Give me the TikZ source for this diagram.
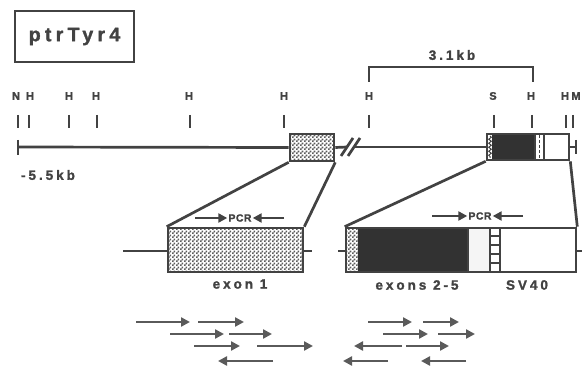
\documentclass[tikz,border=0pt]{standalone}
\usepackage{fontspec}
\setmainfont{Liberation Sans}
\newfontfamily\lbl[LetterSpace=22, FakeBold=1.6]{Liberation Sans Bold}
\newfontfamily\pcrfont[LetterSpace=4, FakeBold=1.2]{Liberation Sans Bold}
\usetikzlibrary{patterns,arrows.meta,decorations.pathmorphing}
\pgfdeclarepatternformonly{finechk}{\pgfqpoint{0pt}{0pt}}{\pgfqpoint{4pt}{4pt}}{\pgfqpoint{4pt}{4pt}}{%
  \pgfpathrectangle{\pgfqpoint{0pt}{0pt}}{\pgfqpoint{2pt}{2pt}}%
  \pgfpathrectangle{\pgfqpoint{2pt}{2pt}}{\pgfqpoint{2pt}{2pt}}%
  \pgfusepath{fill}}
\definecolor{ink}{HTML}{424242}
\definecolor{darkfill}{HTML}{323232}
\definecolor{arr}{HTML}{5A5A5A}
\definecolor{chkc}{HTML}{5C5C5C}
\tikzset{
  tl/.style={font=\lbl\fontsize{11}{11}\selectfont, text=ink, inner sep=0},
  bl/.style={font=\lbl\fontsize{13.5}{13.5}\selectfont, text=ink, inner sep=0},
  pcrlbl/.style={font=\pcrfont\fontsize{10.5}{10.5}\selectfont, text=ink, inner sep=0},
  genebox/.style={draw=ink, line width=2.6pt, inner sep=0, rectangle},
  chk/.style={pattern=finechk, pattern color=chkc},
  rtick/.style={draw=ink, line width=2.7pt},
  pcrarrow/.style={draw=ink, line width=2.8pt, -{Triangle[length=9pt,width=9pt]}},
  readarrow/.style={draw=arr, line width=2.8pt, -{Triangle[length=9pt,width=9pt]}},
}
\begin{document}
\begin{tikzpicture}[x=1pt,y=-1pt]
\useasboundingbox (0,0) rectangle (582,366);

% title
\node[draw=ink, line width=2.2pt, minimum width=119pt, minimum height=51pt, inner sep=0,
      font=\lbl\fontsize{19.5}{19.5}\selectfont, text=ink] (title) at (74.5,36.5) {ptrTyr4};

% restriction site labels
\foreach \lx/\ly/\name/\txt in {16/96/n1/N, 30/96/h1/H, 69/96/h2/H, 96/96/h3/H, 189/96/h4/H, 284/96/h5/H,
  369/96/h6/H, 493/96/s1/S, 531/96/h7/H, 565/96/h8/H, 576/96/m1/M}
  \node[tl] (\name) at (\lx,\ly) {\txt};
% restriction site ticks
\foreach \tx in {18, 29, 69, 97, 190, 284, 369, 494, 532, 566, 573}
  \draw[rtick] (\tx,115) -- (\tx,128);

% 3.1 kb bracket
\node[bl] (kb31) at (452,55) {3.1kb};
\coordinate (brL) at (369,82);
\coordinate (brR) at (533,82);
\draw[rtick] (brL) -- (369,67) -- (533,67) -- (brR);

% main line
\coordinate (lend) at (18,147);
\coordinate (rend) at (576,147);
\node[bl] (m55) at (48,175) {-5.5kb};

% small exon1 box
\node[genebox, chk, minimum width=44pt, minimum height=27pt] (ex1s) at (312,147.5) {};

% small right box internals
\fill[darkfill] (492,134) rectangle (535,160);
\draw[ink, line width=1pt, decorate, decoration={snake, amplitude=1.3pt, segment length=4pt}] (490,136) -- (490,158);
\draw[ink, line width=1.5pt] (535,134) -- (535,160);
\draw[ink, line width=1.5pt] (544,134) -- (544,160);
\draw[ink, line width=1.5pt, dash pattern=on 3pt off 2pt] (539.5,135) -- (539.5,159);
\node[genebox, minimum width=82pt, minimum height=26pt] (rs) at (528,147) {};

\draw[rtick] (lend) -- (ex1s.west);
\draw[rtick] (ex1s.east) -- (347,147);
\draw[rtick] (355,147) -- (rs.west);
\draw[rtick] (rs.east) -- (rend);
\draw[rtick] (18,140) -- (18,155);
\draw[rtick] (576,140) -- (576,154);
% break marks
\draw[rtick] (341,156) -- (353,138);
\draw[rtick] (348,156) -- (360,138);

% big exon1 box
\node[genebox, chk, minimum width=135pt, minimum height=44pt] (ex1) at (235.5,250) {};
\coordinate (ex1L) at (123,251);
\coordinate (ex1R) at (312,251);
\draw[rtick] (ex1L) -- (ex1.west |- ex1L);
\draw[rtick] (ex1.east |- ex1R) -- (ex1R);

% big right box internals
\fill[chk] (346,228) rectangle (358,272);
\fill[darkfill] (358,228) rectangle (468,272);
\fill[gray!8] (468,228) rectangle (490,272);
\draw[ink, line width=1.6pt] (468,228) -- (468,272);
\draw[ink, line width=2.2pt] (490,228) -- (490,272);
\draw[ink, line width=2.2pt] (500,228) -- (500,272);
\foreach \ry in {236,245,254,263}
  \draw[ink, line width=2.5pt] (490,\ry) -- (500,\ry);
\node[genebox, minimum width=230pt, minimum height=44pt] (rb) at (461,250) {};
\coordinate (rbL) at (338,251);
\coordinate (rbR) at (582,251);
\draw[rtick] (rbL) -- (rb.west |- rbL);
\draw[rtick] (rb.east |- rbR) -- (rbR);

% zoom connectors
\draw[rtick] (ex1s.south west) -- (ex1.north west);
\draw[rtick] (ex1s.south east) -- (ex1.north east);
\draw[rtick] (rs.south west) -- (rb.north west);
\draw[rtick] (rs.south east) -- (rb.north east);

% PCR primers
\node[pcrlbl] (pcr1) at (240,218) {PCR};
\draw[pcrarrow] (195,218) -- ([xshift=-1pt]pcr1.west);
\draw[pcrarrow] (284,218) -- ([xshift=1pt]pcr1.east);
\node[pcrlbl] (pcr2) at (480,216) {PCR};
\draw[pcrarrow] (432,216) -- ([xshift=-1pt]pcr2.west);
\draw[pcrarrow] (523,216) -- ([xshift=1pt]pcr2.east);

% labels
\node[bl] (lex1) at (240,284) {exon 1};
\node[bl] (lex25) at (417,285) {exons 2-5};
\node[bl] (lsv) at (527,285) {SV40};

% sequencing reads
\foreach \xa/\xb/\yy in {
  136/190/322, 198/244/322, 368/412/322, 423/459/322,
  170/224/334, 229/272/334, 383/428/334, 438/475/334,
  194/240/346, 257/313/346, 402/354/346, 406/449/346,
  273/218/361, 388/343/361, 466/421/361}
  \draw[readarrow] (\xa,\yy) -- (\xb,\yy);
\end{tikzpicture}
\end{document}
